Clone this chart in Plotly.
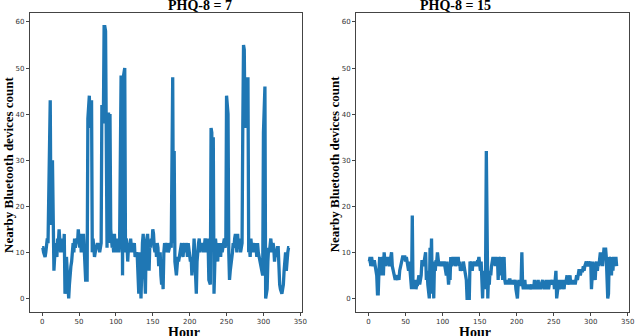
import plotly.graph_objects as go

# часы наблюдения (2 недели)
hours = list(range(336))

# PHQ-8 = 7
count_phq7 = [
    11, 11, 10, 9, 9, 10, 12, 13, 12, 22, 43, 43,
    16, 17, 30, 6, 6, 9, 12, 10, 9, 13, 12, 15,
    11, 10, 12, 11, 13, 10, 14, 1, 2, 9, 5, 1,
    0, 3, 6, 7, 8, 11, 12, 10, 13, 11, 12, 13,
    12, 15, 13, 11, 14, 10, 12, 14, 14, 11, 4, 4,
    4, 4, 39, 42, 44, 37, 43, 43, 10, 13, 11, 9,
    10, 11, 12, 12, 11, 12, 10, 11, 12, 42, 40, 38,
    59, 59, 58, 38, 11, 40, 40, 12, 40, 15, 13, 11,
    12, 10, 14, 11, 12, 10, 13, 11, 10, 12, 48, 48,
    48, 5, 48, 50, 50, 10, 13, 12, 8, 11, 12, 10,
    13, 11, 12, 10, 11, 12, 9, 10, 10, 9, 5, 1,
    10, 7, 0, 9, 12, 14, 10, 5, 1, 12, 13, 14,
    10, 6, 12, 11, 13, 12, 15, 14, 11, 10, 12, 9,
    12, 11, 7, 9, 10, 5, 3, 6, 2, 10, 12, 11,
    10, 11, 12, 10, 11, 12, 12, 11, 48, 48, 12, 32,
    8, 7, 5, 7, 9, 8, 9, 10, 11, 12, 10, 9,
    11, 12, 10, 12, 11, 9, 12, 11, 10, 8, 9, 5,
    8, 9, 13, 10, 5, 1, 8, 11, 12, 13, 10, 11,
    12, 11, 12, 10, 11, 13, 12, 10, 13, 12, 4, 3,
    3, 37, 36, 10, 35, 1, 9, 13, 11, 10, 8, 12,
    10, 11, 9, 12, 10, 11, 12, 13, 11, 12, 44, 42,
    40, 10, 4, 6, 7, 8, 10, 12, 11, 13, 14, 12,
    10, 14, 11, 12, 13, 10, 11, 12, 37, 55, 54, 37,
    48, 37, 48, 48, 10, 11, 9, 13, 11, 12, 10, 11,
    12, 10, 11, 9, 12, 10, 9, 8, 7, 6, 5, 5,
    36, 46, 46, 0, 1, 2, 8, 11, 10, 12, 13, 11,
    10, 12, 11, 8, 10, 9, 11, 11, 11, 4, 3, 2,
    1, 1, 2, 3, 6, 8, 10, 6, 9, 10, 11, 11,
]

# PHQ-8 = 15
count_phq15 = [
    8, 8, 9, 7, 9, 8, 7, 8, 8, 7, 6, 5,
    1, 1, 6, 9, 5, 9, 6, 9, 5, 10, 8, 7,
    9, 8, 9, 8, 7, 8, 9, 10, 7, 6, 5, 4,
    4, 5, 4, 4, 5, 4, 6, 7, 8, 8, 9, 9,
    9, 9, 8, 9, 8, 7, 6, 8, 6, 3, 2, 18,
    2, 4, 3, 4, 2, 3, 3, 4, 5, 3, 4, 5,
    8, 8, 7, 8, 9, 10, 4, 6, 3, 1, 0, 11,
    7, 13, 1, 6, 0, 8, 6, 8, 8, 10, 8, 7,
    8, 7, 8, 7, 8, 7, 8, 7, 6, 5, 8, 4,
    3, 5, 4, 9, 7, 8, 9, 8, 9, 7, 9, 9,
    8, 9, 7, 8, 6, 7, 7, 6, 8, 7, 6, 5,
    4, 0, 0, 0, 0, 8, 7, 8, 6, 8, 7, 8,
    7, 8, 7, 8, 8, 9, 8, 6, 8, 4, 0, 6,
    5, 2, 6, 32, 6, 0, 5, 3, 6, 5, 7, 9,
    9, 8, 9, 7, 9, 8, 9, 4, 9, 8, 9, 5,
    9, 4, 8, 9, 4, 3, 4, 3, 4, 3, 4, 4,
    3, 4, 3, 4, 3, 4, 4, 2, 1, 0, 3, 4,
    3, 3, 4, 10, 3, 2, 3, 4, 2, 3, 2, 3,
    2, 3, 2, 3, 3, 2, 3, 2, 4, 3, 2, 3,
    3, 4, 2, 3, 2, 3, 4, 4, 3, 2, 3, 2,
    4, 3, 4, 2, 3, 4, 3, 4, 4, 3, 4, 2,
    4, 6, 0, 2, 3, 4, 2, 3, 4, 2, 4, 3,
    2, 4, 3, 4, 5, 3, 4, 4, 5, 3, 4, 3,
    4, 3, 4, 3, 4, 5, 4, 6, 6, 6, 5, 6,
    6, 6, 7, 6, 7, 8, 8, 7, 8, 8, 7, 8,
    8, 2, 4, 8, 6, 5, 4, 7, 8, 6, 8, 7,
    9, 10, 8, 9, 7, 9, 11, 10, 11, 9, 6, 0,
    1, 9, 7, 9, 5, 9, 6, 9, 8, 7, 9, 7,
]

titles = ["PHQ-8 = 7", "PHQ-8 = 15"]
x_ticks = [0, 50, 100, 150, 200, 250, 300, 350]
y_ticks = [0, 10, 20, 30, 40, 50, 60]

serif = dict(family="Liberation Serif", size=14, color="black")
W, H = 640, 336

fig = go.Figure()
fig.add_trace(go.Scatter(x=hours, y=count_phq7, mode="lines",
                         line=dict(color="#1f77b4", width=3.3), xaxis="x", yaxis="y"))
fig.add_trace(go.Scatter(x=hours, y=count_phq15, mode="lines",
                         line=dict(color="#1f77b4", width=3.3), xaxis="x2", yaxis="y2"))

# общий стиль осей
axis = dict(showgrid=False, zeroline=False, showline=True, mirror=True,
            linecolor="#444", linewidth=1, ticks="outside", ticklen=3,
            tickcolor="#444", tickfont=dict(family="DejaVu Sans", size=7, color="#333"))

# положение панелей в пикселях
left = [(30, 304), (359, 634)]
top, bottom = 13, 312

fig.update_layout(
    width=W, height=H, margin=dict(l=0, r=0, t=0, b=0),
    paper_bgcolor="white", plot_bgcolor="white", showlegend=False,
    xaxis=dict(axis, domain=[left[0][0] / W, left[0][1] / W], range=[-16.75, 351.75],
               tickvals=x_ticks, anchor="y"),
    yaxis=dict(axis, domain=[1 - bottom / H, 1 - top / H], range=[-2.95, 61.95],
               tickvals=y_ticks, anchor="x"),
    xaxis2=dict(axis, domain=[left[1][0] / W, left[1][1] / W], range=[-16.75, 351.75],
                tickvals=x_ticks, anchor="y2"),
    yaxis2=dict(axis, domain=[1 - bottom / H, 1 - top / H], range=[-2.95, 61.95],
                tickvals=y_ticks, anchor="x2"),
)

for i, (x0, x1) in enumerate(left):
    cx = (x0 + x1) / 2 / W
    fig.add_annotation(text="<b>%s</b>" % titles[i], x=cx, y=1 - 5.5 / H, xref="paper", yref="paper",
                       showarrow=False, font=serif, yanchor="middle")
    fig.add_annotation(text="<b>Hour</b>", x=cx, y=1 - 332 / H, xref="paper", yref="paper",
                       showarrow=False, font=serif, yanchor="middle")
    fig.add_annotation(text="<b>Nearby Bluetooth devices count</b>", x=(x0 - 22) / W,
                       y=1 - 164 / H, xref="paper", yref="paper", showarrow=False,
                       font=dict(serif, size=13), textangle=-90, xanchor="center", yanchor="middle")

# убираем отступ body, чтобы график начинался с угла окна
fig.write_html("out.html", config={"displayModeBar": False},
               post_script="document.body.style.margin='0';")
